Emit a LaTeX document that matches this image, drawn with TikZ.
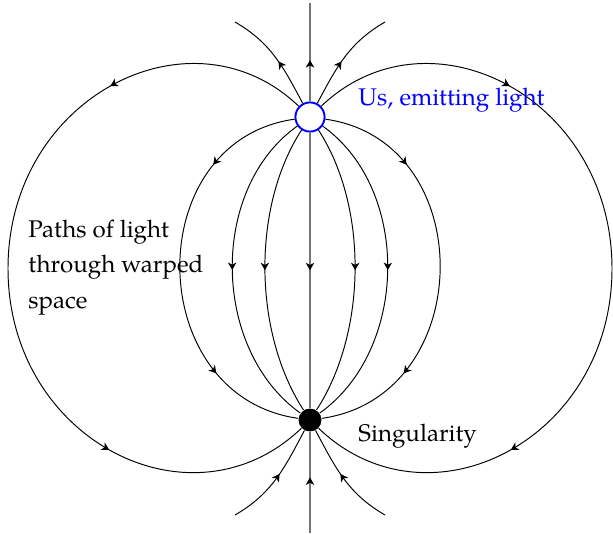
\documentclass[tikz,border=0pt]{standalone}
\usepackage{fontspec}
\setmainfont{TeX Gyre Pagella}
\usepackage{xcolor}
\usepackage{tikz}
\usetikzlibrary{arrows.meta, decorations.markings}

\tikzset{
  emitter/.style={circle, draw=blue, line width=0.8pt, fill=white, minimum size=12.1pt, inner sep=0pt},
  sink/.style={circle, fill=black, minimum size=9.5pt, inner sep=0pt},
  ray/.style={black, line width=0.4pt},
  axisray/.style={black!55, line width=0.8pt},
  arrowat/.style={postaction={decorate},
    decoration={markings, mark=at position #1 with {\arrow[line width=0.4pt]{Stealth[length=3.1pt, width=3.5pt, inset=0.9pt, color=black]}}}},
  arrowsat/.style 2 args={postaction={decorate},
    decoration={markings,
      mark=at position #1 with {\arrow[line width=0.4pt]{Stealth[length=3.1pt, width=3.5pt, inset=0.9pt, color=black]}},
      mark=at position #2 with {\arrow[line width=0.4pt]{Stealth[length=3.1pt, width=3.5pt, inset=0.9pt, color=black]}}}},
}

\begin{document}
\begin{tikzpicture}[x=0.415pt, y=0.415pt]
  \useasboundingbox (0,0) rectangle (613,533);
  % Source (us) and sink (singularity), 303 units apart on the axis
  \node[emitter] (us) at (310,416) {};
  \node[sink] (sing) at (310,113) {};
  % Loose ends of the rays at the edge of the picture
  \coordinate (top) at (310,530);
  \coordinate (bot) at (310,0);
  \coordinate (tl) at (235,511);
  \coordinate (tr) at (385,511);
  \coordinate (bl) at (235,18);
  \coordinate (br) at (385,18);
  % Widest points of the two outer rays
  \coordinate (lw) at (8,264.5);
  \coordinate (rw) at (612,264.5);
  % Axis: straight rays
  \draw[axisray, arrowat=0.42] (us) -- (top);
  \draw[axisray, arrowat=0.5] (us) -- (sing);
  \draw[axisray, arrowat=0.55] (bot) -- (sing);
  % Rays leaving / entering the picture
  \draw[ray, arrowat=0.45] (us) to[out=118, in=-30] (tl);
  \draw[ray, arrowat=0.45] (us) to[out=62, in=210] (tr);
  \draw[ray, arrowat=0.55] (bl) to[out=30, in=242] (sing);
  \draw[ray, arrowat=0.55] (br) to[out=150, in=-62] (sing);
  % Bent rays from us to the singularity, inner to outer
  \draw[ray, arrowat=0.5] (us) to[out=237, in=123, looseness=0.84] (sing);
  \draw[ray, arrowat=0.5] (us) to[out=303, in=57, looseness=0.84] (sing);
  \draw[ray, arrowat=0.5] (us) to[out=215.5, in=144.5, looseness=0.97] (sing);
  \draw[ray, arrowat=0.5] (us) to[out=324.5, in=35.5, looseness=0.97] (sing);
  \draw[ray, arrowsat={0.23}{0.77}] (us) to[out=188, in=172, looseness=1.34] (sing);
  \draw[ray, arrowsat={0.23}{0.77}] (us) to[out=352, in=8, looseness=1.34] (sing);
  % outer rays: nearly elliptic, through the widest points
  \draw[ray, arrowsat={0.24}{0.755}] (us) .. controls (191.5,529.5) and (8,436.1) .. (lw)
    .. controls (8,92.9) and (191.5,-0.5) .. (sing);
  \draw[ray, arrowsat={0.24}{0.755}] (us) .. controls (428.5,529.5) and (612,436.1) .. (rw)
    .. controls (612,92.9) and (428.5,-0.5) .. (sing);
  % Labels
  \node[blue, anchor=base west, inner sep=0pt] (uslabel) at (358,428) {Us, emitting light};
  \node[anchor=base west, inner sep=0pt] (singlabel) at (358,92) {Singularity};
  \node[anchor=base west, inner sep=0pt, align=left] (pathlabel) at (28,225)
    {Paths of light\\[2.7pt]through warped\\[2.7pt]space};
\end{tikzpicture}
\end{document}
